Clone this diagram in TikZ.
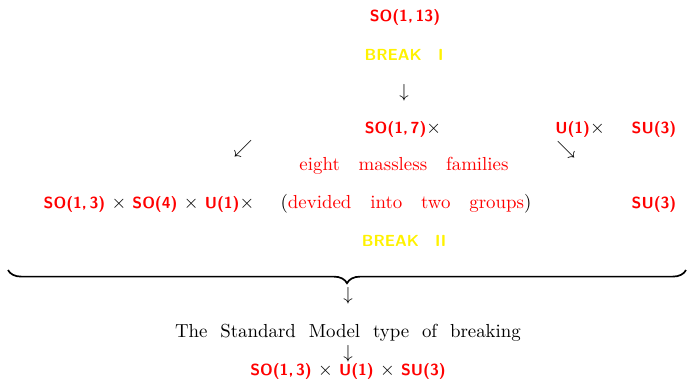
\documentclass[tikz,border=0pt]{standalone}
\usetikzlibrary{decorations.pathreplacing}
\newcommand{\sansb}{\fontfamily{lmss}\fontseries{bx}\fontsize{8.5}{10}\selectfont}
\tikzset{
  grp/.style={text=red, font=\sansb, inner sep=0pt},
  brk/.style={text=yellow, font=\sansb, inner sep=0pt},
  txt/.style={text=red, font=\fontsize{10}{12}\selectfont, inner sep=0pt},
  mix/.style={text=black, font=\fontsize{10}{12}\selectfont, inner sep=0pt},
  glyph/.style={text=black, font=\fontsize{10}{12}\selectfont, inner sep=0pt},
}
\newcommand{\grpR}[1]{\textcolor{red}{\sansb #1}}
\newcommand{\gap}{\hspace{0.68em}}
\begin{document}
\begin{tikzpicture}[x=0.53pt, y=-0.53pt]
\useasboundingbox (0,0) rectangle (687,380);
\node[grp] (so13) at (405,17) {SO(1,\,13)};
\node[brk] (b1) at (404,55) {BREAK\quad I};
\node[glyph] (d1) at (404,93) {$\downarrow$};
\node[mix] (so17) at (403,129) {\grpR{SO(1,\,7)}$\times$};
\node[mix] (u1) at (580,129) {\grpR{U(1)}$\times$};
\node[grp] (su3a) at (654,129) {SU(3)};
\node[glyph] (sw) at (243,149) {$\swarrow$};
\node[glyph] (se) at (566,150) {$\searrow$};
\node[txt] (fam) at (404,166) {eight\quad massless\quad families};
\node[mix] (left) at (149,204) {\grpR{SO(1,\,3)} $\times$ \grpR{SO(4)} $\times$ \grpR{U(1)}$\times$};
\node[mix] (grp2) at (406,204) {(\textcolor{red}{devided\quad into\quad two\quad groups})};
\node[grp] (su3b) at (654,204) {SU(3)};
\node[brk] (b2) at (404,241) {BREAK\quad II};
\coordinate (bl) at (8,270);
\coordinate (br) at (686,270);
\draw[line width=0.9pt, decorate, decoration={brace, mirror, amplitude=7pt}] (bl) -- (br);
\node[glyph] (d2) at (348,296) {$\downarrow$};
\node[mix] (sm) at (348,333) {The\gap Standard\gap Model\gap type\gap of\gap breaking};
\node[glyph] (d3) at (348,354) {$\downarrow$};
\node[mix] (fin) at (348,371) {\grpR{SO(1,\,3)} $\times$ \grpR{U(1)} $\times$ \grpR{SU(3)}};
\end{tikzpicture}
\end{document}
